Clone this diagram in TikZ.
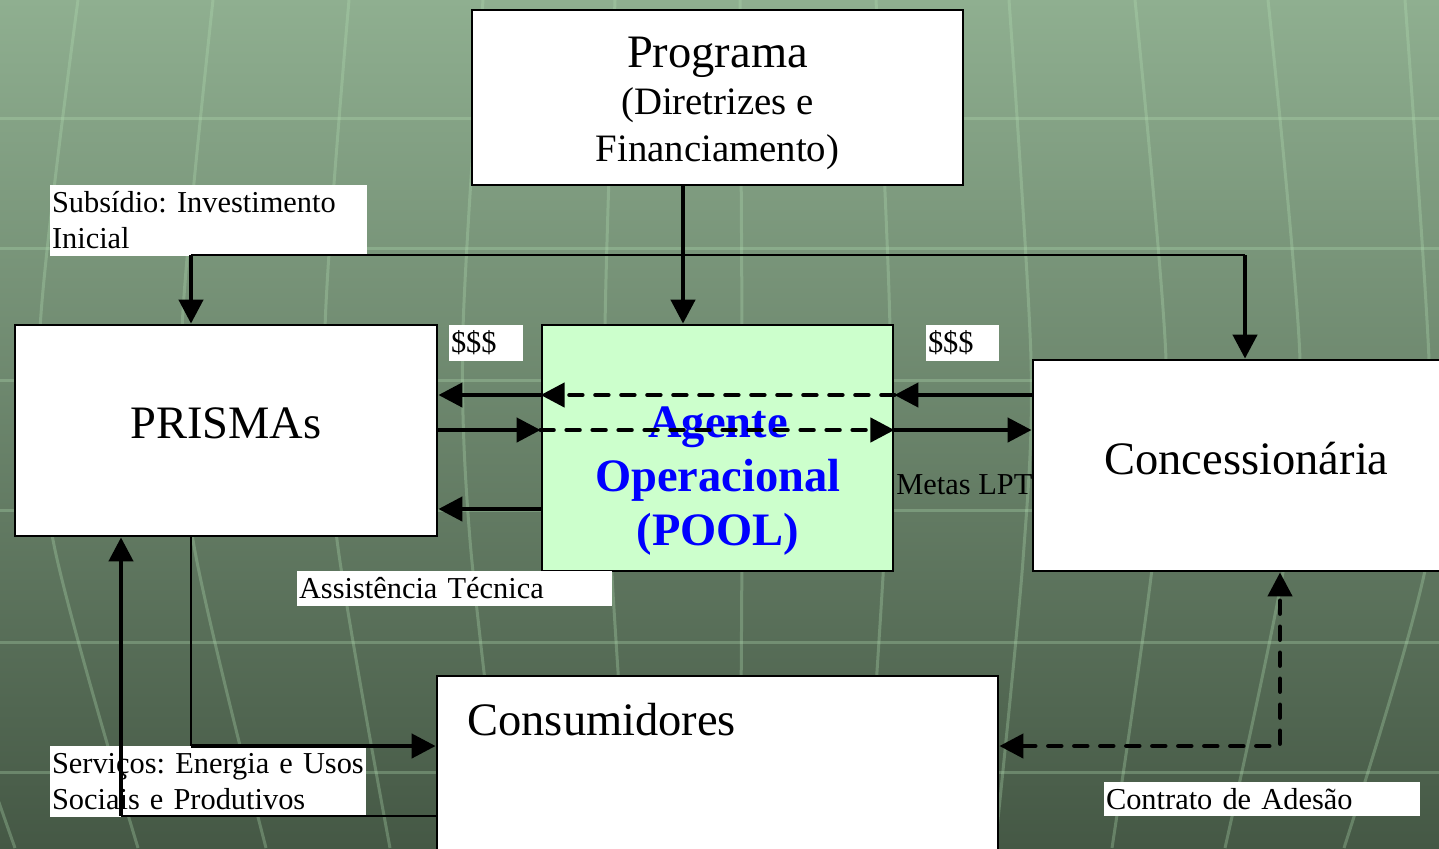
\documentclass[tikz,border=0pt]{standalone}
\usepackage{fontspec}
\setmainfont{Liberation Serif}
\usetikzlibrary{positioning, arrows.meta}
\definecolor{bgtop}{HTML}{8FAF90}
\definecolor{bgmid}{HTML}{6C886C}
\definecolor{bgbot}{HTML}{455845}
\definecolor{gridline}{HTML}{B4E0B4}
\definecolor{poolgreen}{HTML}{CCFFCC}
\tikzstyle{box} = [rectangle, draw=black, line width=1.4pt, fill=white, text centered, font=\fontsize{23.25}{27}\selectfont]
\tikzstyle{progtext} = [align=center, font=\fontsize{19.4}{23.5}\selectfont]
\tikzstyle{pooltxt} = [align=center, text=blue, font=\bfseries\fontsize{23.25}{27}\selectfont]
\tikzstyle{tag} = [rectangle, fill=white, inner xsep=1pt, inner ysep=0pt, align=left, font=\fontsize{15.2}{18}\selectfont]
\tikzstyle{bggrid} = [draw=gridline, opacity=0.3, line width=1.5pt]
\tikzstyle{wire} = [line width=1.4pt]
\tikzstyle{arrow} = [line width=2.2pt, -{Triangle[length=12pt,width=12pt]}]
\tikzstyle{dasharrow} = [arrow, line cap=round, dash pattern=on 6.5pt off 6.5pt]
\tikzstyle{dblarrow} = [dasharrow, {Triangle[length=12pt,width=12pt]}-{Triangle[length=12pt,width=12pt]}]

\begin{document}
\frenchspacing
\begin{tikzpicture}[x=0.5pt, y=-0.5pt]
    \useasboundingbox (0,0) rectangle (1439,848);
    \clip (0,0) rectangle (1439,848);
    % background
    \fill[top color=bgtop, middle color=bgmid, bottom color=bgbot] (0,0) rectangle (1439,848);
    \draw[bggrid] (0,118) -- (1439,118) (0,248) -- (1439,248) (0,380) -- (1439,380)
        (0,510) -- (1439,510) (0,642) -- (1439,642) (0,772) -- (1439,772);
    \draw[bggrid] plot[smooth] coordinates {(-57,0) (-100,330) (-85,540) (15,848)};
    \draw[bggrid] plot[smooth] coordinates {(78,0) (40,330) (53,540) (138,848)};
    \draw[bggrid] plot[smooth] coordinates {(213,0) (182,330) (193,540) (266,848)};
    \draw[bggrid] plot[smooth] coordinates {(349,0) (325,330) (337,540) (390,848)};
    \draw[bggrid] plot[smooth] coordinates {(483,0) (463,330) (470,540) (505,848)};
    \draw[bggrid] plot[smooth] coordinates {(615,0) (605,330) (610,540) (630,848)};
    \draw[bggrid] plot[smooth] coordinates {(740,0) (742,330) (742,540) (740,848)};
    \draw[bggrid] plot[smooth] coordinates {(876,0) (890,330) (885,540) (865,848)};
    \draw[bggrid] plot[smooth] coordinates {(1009,0) (1031,360) (1023,560) (995,848)};
    \draw[bggrid] plot[smooth] coordinates {(1135,0) (1166,360) (1153,560) (1112,848)};
    \draw[bggrid] plot[smooth] coordinates {(1268,0) (1300,360) (1285,560) (1225,848)};
    \draw[bggrid] plot[smooth] coordinates {(1405,0) (1429,360) (1427,560) (1344,848)};

    % boxes
    \node (prog) [box, minimum width=245.5pt, minimum height=87.5pt] at (717.5,97.5) {};
    \node (progtxt) [progtext] at (717.5,103)
        {{\fontsize{23.25}{27}\selectfont Programa}\\(Diretrizes e\\Financiamento)};
    \node (prisma) [box, minimum width=211pt, minimum height=105.5pt, text depth=7.5pt] at (226,430.5) {PRISMAs};
    \node (agente) [box, fill=poolgreen, minimum width=175.5pt, minimum height=123pt] at (717.5,448) {};
    \node (agentetxt) [pooltxt] at (718,481) {Agente\\Operacional\\(POOL)};
    \node (conc) [box, minimum width=213.5pt, minimum height=105.5pt, text depth=7.5pt] at (1246.5,465.5) {Concessionária};
    \node (consum) [box, minimum width=280.5pt, minimum height=112pt] at (717.5,788) {};
    \node (consumtxt) [anchor=base west, inner sep=0pt, font=\fontsize{23.25}{27}\selectfont] at (467,735) {Consumidores};

    % labels
    \node (subs) [tag, text width=156.5pt, minimum height=35.5pt] at (208.5,220.5) {Subsídio: Investimento\\Inicial};
    \node (moneyA) [tag, text width=35pt, minimum height=18pt] at (486,343) {\$\$\$};
    \node (moneyB) [tag, text width=34.5pt, minimum height=18pt] at (962.5,343) {\$\$\$};
    \node (metas) [anchor=base west, inner sep=0pt, font=\fontsize{15.2}{18}\selectfont] at (896,494) {Metas LPT};
    \node (assist) [tag, text width=155.5pt, minimum height=17.5pt] at (454.5,588.5) {Assistência Técnica};
    \node (serv) [tag, text width=156pt, minimum height=35.5pt] at (208,781.5) {\mbox{Serviços: Energia e Usos}\\Sociais e Produtivos};
    \node (contr) [tag, text width=156pt, minimum height=17pt] at (1262,799) {Contrato de Adesão};

    % connectors
    \draw[arrow] (prog.south -| 683,0) -- (agente.north -| 683,0);
    \coordinate (busL) at (191,255);
    \coordinate (busR) at (1245,255);
    \draw[wire] (busL) -- (busR);
    \draw[arrow] (busL) -- (prisma.north -| busL);
    \draw[arrow] (busR) -- (conc.north -| busR);

    \draw[arrow] (conc.west |- 0,395) -- (agente.east |- 0,395);
    \draw[dasharrow] (agente.east |- 0,395) -- (agente.west |- 0,395);
    \draw[arrow] (agente.west |- 0,395) -- (prisma.east |- 0,395);
    \draw[arrow] (prisma.east |- 0,430) -- (agente.west |- 0,430);
    \draw[dasharrow] (agente.west |- 0,430) -- (agente.east |- 0,430);
    \draw[arrow] (agente.east |- 0,430) -- (conc.west |- 0,430);
    \draw[arrow] (agente.west |- 0,509) -- (prisma.east |- 0,509);

    \coordinate (svcA) at (191,746);
    \coordinate (svcB) at (121,816);
    \draw[wire] (prisma.south -| svcA) -- (svcA);
    \draw[arrow] (svcA) -- (consum.west |- svcA);
    \draw[wire] (consum.west |- svcB) -- (svcB);
    \draw[arrow] (svcB) -- (prisma.south -| svcB);

    \coordinate (ctr) at (1280,746);
    \draw[dblarrow] (consum.east |- ctr) -- (ctr) -- (conc.south -| ctr);
\end{tikzpicture}
\end{document}
